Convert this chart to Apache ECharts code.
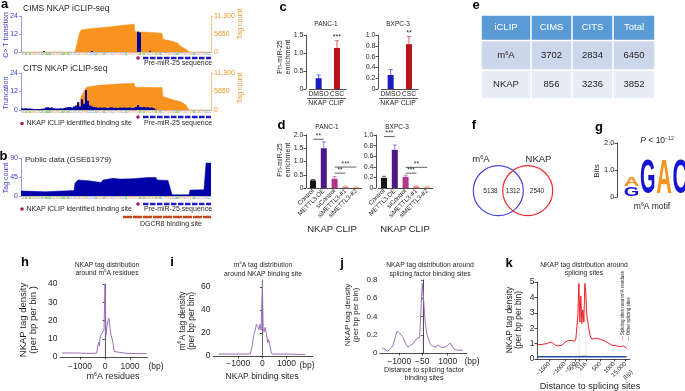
<!DOCTYPE html>
<html>
<head>
<meta charset="utf-8">
<title>NKAP iCLIP figure</title>
<script src="https://cdn.jsdelivr.net/npm/echarts@6.0.0/dist/echarts.min.js"></script>
<style>
  html, body { margin: 0; padding: 0; background: #fff; }
  #figure { width: 685px; height: 391px; }
</style>
</head>
<body>
<div id="figure"></div>
<script>
const FONT = '"Liberation Sans", Arial, Helvetica, sans-serif';
const INK = '#231f20';
const TRACK_BLUE = '#3a3ac4';
const TAG_ORANGE = '#f7931e';

// a / b : read coverage along pri-miR-25 (x = nucleotide index)
const seqLetters = 'GCAGAGGCGCAGAAAGCGGCAAGACCGCGCGGGCCCCAGCGACTGCCTGGCCAGTGTTGAGAGGCGGAGACTTGGGCAATTGCTGGACGCTGCCCTGGG';
const bindingSite = 58.5;
const preMir25 = [61, 95];
const dgcr8Site = [51, 95];

const cimsTagPos = [0, 27, 28, 29, 30, 31, 35, 40, 45, 50, 55, 56.5, 57, 65, 70.5, 71, 72, 76, 78, 80, 83, 84, 95];
const cimsTagCount = [0, 0, 2500, 5500, 6900, 7150, 7350, 7650, 7950, 8300, 8650, 8800, 6350, 6150, 5900, 4000, 3700, 3300, 2900, 1700, 650, 0, 0];
const cimsTransPos = [11.5, 35.5, 58.5, 59.5, 64.5];
const cimsTransition = [0.6, 0.7, 13.5, 13.0, 0.5];

const citsTagPos = [0, 28.5, 29, 30, 31, 32, 33, 34, 40, 50, 56.5, 57, 70.5, 71, 76, 80, 82.5, 84, 95];
const citsTagCount = [0, 0, 1500, 3800, 5200, 6300, 7000, 7300, 7600, 8000, 8200, 6950, 6850, 4100, 3100, 2500, 1500, 0, 0];
const citsTruncation = [1.2, 1.0, 1.1, 0.9, 1.0, 0.8, 0.6, 0.5, 0.6, 0.7, 0.8, 1.0, 1.6, 1.8, 1.5, 1.7, 1.2,
  0.9, 1.0, 1.1, 0.9, 1.3, 1.6, 1.8, 2.0, 1.7, 2.2, 3.0, 5.0, 2.2, 7.0, 4.0, 13.0, 6.0, 3.0, 2.5, 2.0,
  1.8, 1.5, 1.6, 1.4, 1.7, 1.5, 1.3, 1.6, 1.8, 1.5, 1.4, 1.3, 1.6, 1.5, 1.7, 1.4, 1.5, 1.6, 1.3, 1.5,
  2.0, 3.2, 2.0, 1.8, 2.0, 1.6, 1.8, 1.5, 1.7, 1.2, 0.4];

const gsePos = [0, 6, 12, 12.5, 26.5, 27, 28.5, 34, 34.5, 40, 41, 46, 49.5, 56, 63.5, 67.5, 68, 73.5, 75.5, 84, 84.5, 91.5, 92.5, 95];
const gseCount = [12, 11, 10, 13, 13, 30, 38, 36, 34, 32, 38, 42, 40, 41, 44, 44, 38, 37, 3, 3, 14, 15, 78, 78];

// c : CLIP-qPCR
const cCategories = ['DMSO', 'CSC'];
const cPanc1 = [0.30, 1.14];
const cPanc1Err = [0.09, 0.20];
const cBxpc3 = [0.26, 0.83];
const cBxpc3Err = [0.10, 0.14];
const cPanc1Stars = ['', '***'];
const cBxpc3Stars = ['', '**'];

// d : METTL3 overexpression / knockdown
const dCategories = ['Control', 'METTL3 OE', 'siControl', 'siMETTL3-#1', 'siMETTL3-#2'];
const dPanc1 = [0.29, 1.50, 0.35, 0.05, 0.04];
const dPanc1Err = [0.03, 0.24, 0.08, 0.02, 0.02];
const dBxpc3 = [0.19, 0.72, 0.21, 0.03, 0.03];
const dBxpc3Err = [0.03, 0.09, 0.03, 0.01, 0.01];
const dPanc1SigFrom = [0, 2, 2], dPanc1SigTo = [1, 3, 4], dPanc1SigY = [1.84, 0.56, 0.79], dPanc1SigText = ['**', '**', '***'];
const dBxpc3SigFrom = [0, 2, 2], dBxpc3SigTo = [1, 3, 4], dBxpc3SigY = [0.97, 0.28, 0.39], dBxpc3SigText = ['***', '***', '**'];

// e : table
const tableHeader = ['iCLIP', 'CIMS', 'CITS', 'Total'];
const tableRowNames = ['m{s|6}A', 'NKAP'];
const tableCIMS = [3702, 856];
const tableCITS = [2834, 3236];
const tableTotal = [6450, 3852];

// f : overlap
const vennSets = ['m{s|6}A', 'NKAP'];
const vennCounts = [5138, 1312, 2540];

// g : motif logo
const motifColumns = [1, 1, 2, 3, 4];
const motifLetters = ['G', 'A', 'G', 'A', 'C'];
const motifBits = [0.36, 0.34, 1.3, 1.3, 1.3];

// h - k : metagene profiles
const hPos = [-1730, -1130, -730, -470, -330, -290, -250, -225, -200, -160, -120, -80, -40, 0, 40, 80, 120, 160, 200, 240, 280, 320, 360, 400, 870, 1400, 1670];
const hDensity = [2.2, 2.2, 2.0, 2.0, 2.2, 6, 8, 6, 10.4, 12, 13, 11, 15, 40, 12, 17, 20, 21.3, 16, 12, 13, 8, 3, 2.2, 2.0, 1.8, 1.8];
const iPos = [-1810, -1050, -500, -430, -360, -290, -250, -195, -135, -95, -55, 0, 30, 70, 110, 165, 220, 260, 305, 360, 400, 1025, 1780];
const iDensity = [1.7, 1.7, 1.7, 8, 18, 23, 27.7, 26, 23, 27.7, 22.5, 64, 24, 21, 24.8, 19.6, 11.5, 14.4, 9.5, 3.8, 1.7, 1.7, 1.2];
const jPos = [-1700, -1610, -1470, -1400, -1265, -1150, -1085, -990, -850, -780, -710, -645, -545, -440, -370, -275, -160, -120, -50, 5, 75, 155, 225, 295, 415, 530, 595, 665, 735, 800, 915, 1010, 1105, 1190, 1285, 1420, 1630];
const jDensity = [0.055, 0.04, 0.02, 0.03, 0.08, 0.19, 0.24, 0.22, 0.17, 0.15, 0.09, 0.066, 0.084, 0.10, 0.095, 0.16, 0.17, 0.40, 0.76, 0.58, 0.32, 0.19, 0.17, 0.09, 0.07, 0.066, 0.09, 0.11, 0.06, 0.048, 0.066, 0.084, 0.11, 0.07, 0.037, 0.03, 0.03];
const kBin = [0.7, 5.4, 10.7, 14.3, 16.8, 19.6, 23.2, 26.8, 30.4, 33.9, 37.5, 40.4, 41.8, 42.9, 43.9, 45, 46.1, 47.1, 48.2, 49.3, 50.4, 51.4, 52.5, 53.6, 55.4, 57.1, 58.9, 64.3, 69.6, 75, 80.4, 85.7, 89.3, 92.9, 96.4];
const kNearM6A = [0.93, 0.95, 1.0, 1.1, 1.05, 0.9, 0.85, 0.9, 1.1, 1.2, 1.2, 1.15, 1.3, 2.1, 2.8, 4.9, 2.4, 4.1, 2.3, 3.2, 2.4, 4.9, 4.3, 2.8, 2.1, 1.5, 1.3, 1.35, 1.25, 1.1, 0.9, 0.85, 0.8, 0.85, 0.7];
const kOtherBin = [0.7, 10, 20, 30, 40, 50, 60, 70, 80, 90, 96.4];
const kOther = [0.15, 0.15, 0.14, 0.15, 0.15, 0.16, 0.15, 0.15, 0.14, 0.15, 0.15];
const kTickBins = [13, 30, 41, 45.5, 52.5, 68, 83, 95];
const kTickLabels = ['\u22121500', '\u22121000', '\u2212500', '\u221230', '116', '500', '1000', '15,000'];
const kSiteBins = [45.5, 52.5];

const baseColors = { A: '#53b44a', C: '#5b7fd6', G: '#f4a640', T: '#e0504a' };
const motifColors = { A: '#f7931e', C: '#1414d2', G: '#1414d2' };

const pairs = (xs, ys) => xs.map((x, i) => [x, ys[i]]);
const dec1 = v => (v === 0 ? '0' : v.toFixed(1));
const minusFmt = v => String(v).replace('-', '\u2212');

// ---------- grids ----------
const grids = [
  { left: 21, top: 16, width: 190, height: 36 },     // 0 a CIMS
  { left: 21, top: 73, width: 190, height: 37 },     // 1 a CITS
  { left: 21, top: 158, width: 190, height: 38 },    // 2 b
  { left: 309.5, top: 35, width: 36.6, height: 54 }, // 3 c PANC-1
  { left: 381.5, top: 35, width: 36.6, height: 54 }, // 4 c BXPC-3
  { left: 307.6, top: 135, width: 54, height: 53 },  // 5 d PANC-1
  { left: 378.6, top: 135, width: 54, height: 53 },  // 6 d BXPC-3
  { left: 617, top: 143, width: 73, height: 54 },    // 7 g
  { left: 60, top: 284, width: 87.5, height: 73 },   // 8 h
  { left: 213, top: 280, width: 100, height: 76 },   // 9 i
  { left: 380, top: 280, width: 87, height: 73 },    // 10 j
  { left: 537, top: 282, width: 93, height: 77 }     // 11 k
].map(g => Object.assign({ containLabel: false, outerBoundsMode: 'none' }, g));

// ---------- axes ----------
function trackX(gi) {
  return { type: 'value', gridIndex: gi, min: 0, max: 95,
    axisLine: { show: true, lineStyle: { color: '#c8c8c8', width: 0.8 } },
    axisTick: { show: false }, axisLabel: { show: false }, splitLine: { show: false } };
}
function trackY(gi, max, interval, color, lineColor, position) {
  return { type: 'value', gridIndex: gi, position: position, min: 0, max: max, interval: interval,
    axisLine: { show: true, lineStyle: { color: lineColor, width: 0.8 } },
    axisTick: { show: true, length: 2, lineStyle: { color: lineColor, width: 0.8 } },
    axisLabel: { color: color, fontSize: 7, fontFamily: FONT, margin: 3,
      formatter: v => (v >= 10000 ? v.toLocaleString('en-US') : String(v)) },
    splitLine: { show: false } };
}
function barX(gi, cats, rotate) {
  return { type: 'category', gridIndex: gi, data: cats,
    axisLine: { show: true, lineStyle: { color: INK, width: 0.8 } },
    axisTick: { show: false },
    axisLabel: { interval: 0, rotate: rotate || 0, fontSize: rotate ? 6.3 : 6.8, color: INK,
      fontFamily: FONT, margin: 2, hideOverlap: false } };
}
function plainY(gi, min, max, o) {
  const y = { type: 'value', gridIndex: gi, min: min, max: max, offset: o.offset || 0,
    axisLine: { show: true, lineStyle: { color: INK, width: 0.8 } },
    axisTick: { show: true, length: 2.5, lineStyle: { color: INK, width: 0.8 } },
    axisLabel: { fontSize: o.size || 7, color: INK, fontFamily: FONT, margin: 2.5 },
    splitLine: { show: false } };
  if (o.interval) y.interval = o.interval;
  if (o.fmt) y.axisLabel.formatter = o.fmt;
  if (o.ticks) { y.axisLabel.customValues = o.ticks; y.axisTick.customValues = o.ticks; }
  return y;
}
function distX(gi, min, max, ticks, o) {
  return { type: 'value', gridIndex: gi, min: min, max: max, offset: o.offset || 0,
    axisLine: { show: true, lineStyle: { color: INK, width: 0.8 } },
    axisTick: { show: true, length: 2.5, customValues: ticks, lineStyle: { color: INK, width: 0.8 } },
    axisLabel: { customValues: ticks, fontSize: o.size, color: INK, fontFamily: FONT, margin: o.margin || 2,
      rotate: o.rotate || 0, formatter: o.fmt || minusFmt },
    splitLine: { show: false } };
}

const xAxes = [
  trackX(0), trackX(1), trackX(2),
  barX(3, cCategories), barX(4, cCategories),
  barX(5, dCategories, 45), barX(6, dCategories, 45),
  { type: 'value', gridIndex: 7, min: 0.1, max: 4.6, show: false },
  distX(8, -1800, 1700, [-1000, 0, 1000], { size: 8.5, offset: 4, margin: 1.5 }),
  distX(9, -2050, 2100, [-1000, 0, 1000], { size: 8.5, offset: 1.5, margin: 2 }),
  distX(10, -1800, 1800, [-1000, -50, 1000], { size: 8.5, offset: 3, margin: 1.5 }),
  distX(11, 0, 100, kTickBins, { size: 6, offset: 2, margin: 2, rotate: 45,
    fmt: v => kTickLabels[kTickBins.indexOf(v)] })
];
const yAxes = [
  trackY(0, 24, 12, TRACK_BLUE, '#8080d8', 'left'),
  trackY(0, 11300, 5650, TAG_ORANGE, '#f9b57a', 'right'),
  trackY(1, 24, 12, TRACK_BLUE, '#8080d8', 'left'),
  trackY(1, 11300, 5650, TAG_ORANGE, '#f9b57a', 'right'),
  trackY(2, 90, 45, TRACK_BLUE, '#8080d8', 'left'),
  plainY(3, 0, 1.5, { interval: 0.5, fmt: dec1, offset: 3.5 }),
  plainY(4, 0, 1.0, { interval: 0.2, fmt: dec1, offset: 3.5 }),
  plainY(5, 0, 2.0, { interval: 0.5, fmt: dec1, offset: 1.6 }),
  plainY(6, 0, 1.0, { interval: 0.2, fmt: dec1, offset: 2.6 }),
  plainY(7, 0, 2, { interval: 1, fmt: dec1, size: 7.5 }),
  plainY(8, 0, 40, { interval: 10, size: 8.5 }),
  plainY(9, 0, 66, { ticks: [0, 20, 40, 60], size: 8.5 }),
  plainY(10, 0, 0.8, { interval: 0.2, fmt: dec1, size: 8 }),
  plainY(11, 0, 5, { interval: 1, size: 8.5 })
];

// ---------- series helpers ----------
function areaSeries(xi, yi, xs, ys, color) {
  return { type: 'line', xAxisIndex: xi, yAxisIndex: yi, data: pairs(xs, ys), symbol: 'none', silent: true,
    lineStyle: { color: color, width: 0.5 }, areaStyle: { color: color, opacity: 1 }, z: 1 };
}
function countBars(xi, yi, xs, ys) {
  return { type: 'bar', xAxisIndex: xi, yAxisIndex: yi, data: pairs(xs, ys), barWidth: 2,
    itemStyle: { color: '#00009e' }, silent: true, z: 2 };
}
function seqSeries(xi, yi) {
  const letters = seqLetters.slice(0, 95).split('');
  return { type: 'custom', xAxisIndex: xi, yAxisIndex: yi, silent: true, clip: false,
    data: letters.map((c, i) => [i + 0.5, 0]),
    renderItem: function (params, api) {
      const p = api.coord([api.value(0), 0]);
      const ch = letters[params.dataIndex];
      return { type: 'text', x: p[0], y: p[1] + 2.6,
        style: { text: ch, fontSize: 3.2, fontFamily: FONT, fill: baseColors[ch], align: 'center', verticalAlign: 'middle' } };
    } };
}
function trackMarks(xi, yi, gap) {
  return { type: 'custom', xAxisIndex: xi, yAxisIndex: yi, silent: true, clip: false,
    data: [[bindingSite, preMir25[0], preMir25[1]]],
    renderItem: function (params, api) {
      const dot = api.coord([api.value(0), 0]);
      const a = api.coord([api.value(1), 0]);
      const b = api.coord([api.value(2), 0]);
      return { type: 'group', children: [
        { type: 'circle', shape: { cx: dot[0], cy: dot[1] + gap, r: 1.8 }, style: { fill: '#a3195b' } },
        { type: 'line', shape: { x1: a[0], y1: a[1] + gap, x2: b[0], y2: b[1] + gap },
          style: { stroke: '#1c1cc8', lineWidth: 2.4, lineDash: [5.5, 1.5] } }
      ] };
    } };
}
function siteBar(xi, yi, range, gap) {
  return { type: 'custom', xAxisIndex: xi, yAxisIndex: yi, silent: true, clip: false,
    data: [[range[0], range[1]]],
    renderItem: function (params, api) {
      const a = api.coord([api.value(0), 0]);
      const b = api.coord([api.value(1), 0]);
      return { type: 'line', shape: { x1: a[0], y1: a[1] + gap, x2: b[0], y2: b[1] + gap },
        style: { stroke: '#c5461f', lineWidth: 2.4, lineDash: [9, 1] } };
    } };
}
function barSeries(xi, yi, values, colors) {
  return { type: 'bar', xAxisIndex: xi, yAxisIndex: yi, barWidth: 6, silent: true,
    data: values.map((v, i) => ({ value: v, itemStyle: { color: colors[i] } })) };
}
function errorSeries(xi, yi, values, errs, colors, stars) {
  return { type: 'custom', xAxisIndex: xi, yAxisIndex: yi, silent: true, z: 3,
    data: values.map((v, i) => [i, v, errs[i]]),
    renderItem: function (params, api) {
      const i = api.value(0), v = api.value(1), e = api.value(2);
      const p0 = api.coord([i, v]);
      const p1 = api.coord([i, v + e]);
      const col = colors[params.dataIndex];
      const kids = [
        { type: 'line', shape: { x1: p0[0], y1: p0[1], x2: p1[0], y2: p1[1] }, style: { stroke: col, lineWidth: 0.9 } },
        { type: 'line', shape: { x1: p1[0] - 2, y1: p1[1], x2: p1[0] + 2, y2: p1[1] }, style: { stroke: col, lineWidth: 0.9 } }
      ];
      const s = stars && stars[params.dataIndex];
      if (s) kids.push({ type: 'text', x: p1[0], y: p1[1] - 0.5,
        style: { text: s, fontSize: 7, fontFamily: FONT, fill: INK, align: 'center', verticalAlign: 'bottom' } });
      return { type: 'group', children: kids };
    } };
}
function sigSeries(xi, yi, from, to, ys, labels) {
  return { type: 'custom', xAxisIndex: xi, yAxisIndex: yi, silent: true, clip: false, z: 4,
    data: from.map((f, i) => [f, to[i], ys[i]]),
    renderItem: function (params, api) {
      const a = api.coord([api.value(0), api.value(2)]);
      const b = api.coord([api.value(1), api.value(2)]);
      return { type: 'group', children: [
        { type: 'line', shape: { x1: a[0], y1: a[1], x2: b[0], y2: b[1] }, style: { stroke: INK, lineWidth: 0.7 } },
        { type: 'text', x: (a[0] + b[0]) / 2, y: a[1] + 0.5,
          style: { text: labels[params.dataIndex], fontSize: 6.5, fontFamily: FONT, fill: INK, align: 'center', verticalAlign: 'bottom' } }
      ] };
    } };
}
function profile(xi, yi, xs, ys, color, width) {
  return { type: 'line', xAxisIndex: xi, yAxisIndex: yi, data: pairs(xs, ys), symbol: 'none', silent: true,
    lineStyle: { color: color, width: width || 1 }, z: 3 };
}
// light dotted guide lines at the reference sites
function guides(xi, yi, sites) {
  return { type: 'custom', xAxisIndex: xi, yAxisIndex: yi, silent: true, z: 2,
    data: sites.map(s => [s]),
    renderItem: function (params, api) {
      const x = api.coord([api.value(0), 0])[0];
      const cs = params.coordSys;
      return { type: 'line', shape: { x1: x, y1: cs.y, x2: x, y2: cs.y + cs.height },
        style: { stroke: '#b8b8b8', lineWidth: 0.6, lineDash: [1.2, 1.2] } };
    } };
}

// motif logo: stack letters inside each column
const motifData = [];
const stackTop = {};
motifColumns.forEach((c, i) => {
  const base = stackTop[c] || 0;
  motifData.push([c, base, motifBits[i]]);
  stackTop[c] = base + motifBits[i];
});
const glyphWidth = { G: 0.778, A: 0.722, C: 0.722 };
const logoSeries = { type: 'custom', xAxisIndex: 7, yAxisIndex: 9, silent: true, clip: false,
  data: motifData,
  renderItem: function (params, api) {
    const col = api.value(0), base = api.value(1), h = api.value(2);
    const bl = api.coord([col - 0.48, base]);
    const tr = api.coord([col + 0.48, base + h]);
    const L = motifLetters[params.dataIndex];
    const fs = 20;
    return { type: 'text', x: (bl[0] + tr[0]) / 2, y: (bl[1] + tr[1]) / 2,
      scaleX: (tr[0] - bl[0]) / (glyphWidth[L] * fs), scaleY: (bl[1] - tr[1]) / (0.72 * fs),
      style: { text: L, fontSize: fs, fontWeight: 'bold', fontFamily: FONT, fill: motifColors[L],
        align: 'center', verticalAlign: 'middle' } };
  } };

const cColors = ['#1c1cc4', '#b3121b'];
const cErrColors = ['#5a5ae6', '#d65050'];
const dColors = ['#141414', '#4b1a86', '#b2358e', '#e07a6a', '#e9b98c'];
const dErrColors = ['#555555', '#8a6ac0', '#d070b0', '#e89a8a', '#eecba6'];

const series = [
  areaSeries(0, 1, cimsTagPos, cimsTagCount, TAG_ORANGE),
  countBars(0, 0, cimsTransPos, cimsTransition),
  areaSeries(1, 3, citsTagPos, citsTagCount, TAG_ORANGE),
  countBars(1, 2, citsTruncation.map((v, i) => i + 0.5), citsTruncation),
  areaSeries(2, 4, gsePos, gseCount, '#0000a8'),
  seqSeries(0, 0), seqSeries(1, 2), seqSeries(2, 4),
  trackMarks(0, 0, 6), trackMarks(1, 2, 7), trackMarks(2, 4, 8),
  siteBar(2, 4, dgcr8Site, 21),
  barSeries(3, 5, cPanc1, cColors), errorSeries(3, 5, cPanc1, cPanc1Err, cErrColors, cPanc1Stars),
  barSeries(4, 6, cBxpc3, cColors), errorSeries(4, 6, cBxpc3, cBxpc3Err, cErrColors, cBxpc3Stars),
  barSeries(5, 7, dPanc1, dColors), errorSeries(5, 7, dPanc1, dPanc1Err, dErrColors),
  sigSeries(5, 7, dPanc1SigFrom, dPanc1SigTo, dPanc1SigY, dPanc1SigText),
  barSeries(6, 8, dBxpc3, dColors), errorSeries(6, 8, dBxpc3, dBxpc3Err, dErrColors),
  sigSeries(6, 8, dBxpc3SigFrom, dBxpc3SigTo, dBxpc3SigY, dBxpc3SigText),
  logoSeries,
  guides(8, 10, [0]), guides(9, 11, [0]), guides(10, 12, [-50]), guides(11, 13, kSiteBins),
  profile(8, 10, hPos, hDensity, '#9d6fbf'),
  profile(9, 11, iPos, iDensity, '#9d6fbf'),
  profile(10, 12, jPos, jDensity, '#9d6fbf'),
  profile(11, 13, kOtherBin, kOther, '#27509b', 1.5),
  profile(11, 13, kBin, kNearM6A, '#ec2227')
];

// ---------- text, table, venn ----------
function rich(size, color) {
  return {
    s: { fontSize: size * 0.6, fill: color, fontFamily: FONT, verticalAlign: 'top' },
    i: { fontSize: size, fill: color, fontFamily: FONT, fontStyle: 'italic' },
    r: { fontSize: size, fill: '#ec2227', fontFamily: FONT },
    b: { fontSize: size, fill: '#27509b', fontFamily: FONT }
  };
}
function txt(x, y, text, size, o) {
  o = o || {};
  const color = o.color || INK;
  const style = { text: text, fontSize: size, fontFamily: FONT, fill: color,
    fontWeight: o.bold ? 'bold' : 'normal', align: o.align || 'center', verticalAlign: 'middle',
    rich: rich(size, color) };
  if (o.lh) style.lineHeight = o.lh;
  return { type: 'text', x: x, y: y, rotation: o.rot || 0, silent: true, style: style };
}
const ROT = Math.PI / 2;

const graphics = [];
// panel letters
[['a', 4.5, 4.5], ['b', 3.5, 156], ['c', 283, 7], ['d', 281.5, 125.5], ['e', 476, 5], ['f', 474, 125],
 ['g', 599, 127], ['h', 25, 262.5], ['i', 172, 262.5], ['j', 342, 263], ['k', 509, 263]]
  .forEach(p => graphics.push(txt(p[1], p[2], p[0], 13, { bold: true, color: '#000' })));

// a / b
graphics.push(
  txt(23, 8.5, 'CIMS NKAP iCLIP-seq', 8.5, { align: 'left' }),
  txt(23, 69, 'CITS NKAP iCLIP-seq', 8.5, { align: 'left' }),
  txt(144, 63.5, 'Pre-miR-25 sequence', 7, { align: 'left' }),
  txt(6, 35, 'C> T transition', 7, { rot: ROT, color: TRACK_BLUE }),
  txt(6, 93, 'Truncation', 7, { rot: ROT, color: TRACK_BLUE }),
  txt(240, 24, 'Tag count', 7, { rot: ROT, color: TAG_ORANGE }),
  txt(240, 88, 'Tag count', 7, { rot: ROT, color: TAG_ORANGE }),
  { type: 'circle', shape: { cx: 22, cy: 123.5, r: 1.8 }, style: { fill: '#a3195b' } },
  txt(26.5, 123.5, 'NKAP iCLIP identified binding site', 7, { align: 'left' }),
  txt(144, 123.5, 'Pre-miR-25 sequence', 7, { align: 'left' }),
  txt(25, 160, 'Public data (GSE61979)', 8, { align: 'left' }),
  txt(6, 178, 'Tag count', 7, { rot: ROT, color: TRACK_BLUE }),
  { type: 'circle', shape: { cx: 22, cy: 209, r: 1.8 }, style: { fill: '#a3195b' } },
  txt(26.5, 209, 'NKAP iCLIP identified binding site', 7, { align: 'left' }),
  txt(144, 209, 'Pre-miR-25 sequence', 7, { align: 'left' }),
  txt(140, 224, 'DGCR8 binding site', 7, { align: 'left' })
);

// c / d
graphics.push(
  txt(326, 24, 'PANC-1', 6.5), txt(398, 24, 'BXPC-3', 6.5),
  txt(284, 57, 'Pri-miR-25\nenrichment', 7, { rot: ROT, lh: 8 }),
  { type: 'line', shape: { x1: 307, y1: 98.5, x2: 346, y2: 98.5 }, style: { stroke: INK, lineWidth: 0.7 } },
  { type: 'line', shape: { x1: 379, y1: 98.5, x2: 418, y2: 98.5 }, style: { stroke: INK, lineWidth: 0.7 } },
  txt(326, 103.5, 'NKAP CLIP', 6.8), txt(398, 103.5, 'NKAP CLIP', 6.8),
  txt(327, 127, 'PANC-1', 6.5), txt(397, 127, 'BXPC-3', 6.5),
  txt(284, 160, 'Pri-miR-25\nenrichment', 7, { rot: ROT, lh: 8 }),
  txt(332, 229, 'NKAP CLIP', 9.5), txt(405, 229, 'NKAP CLIP', 9.5)
);

// e : table
const tableColX = [481, 531, 572, 613, 655];
const tableRowY = [15, 40.5, 70, 99];
const tableFill = ['#5b9bd5', '#cdd7eb', '#e8ecf5'];
const tableCells = [tableHeader,
  [tableRowNames[0], tableCIMS[0], tableCITS[0], tableTotal[0]],
  [tableRowNames[1], tableCIMS[1], tableCITS[1], tableTotal[1]]];
tableCells.forEach((row, r) => {
  row.forEach((cell, c) => {
    const x0 = tableColX[c], x1 = tableColX[c + 1], y0 = tableRowY[r], y1 = tableRowY[r + 1];
    graphics.push({ type: 'rect', silent: true, shape: { x: x0 + 0.75, y: y0 + 0.75, width: x1 - x0 - 1.5, height: y1 - y0 - 1.5 },
      style: { fill: tableFill[r] } });
    graphics.push(txt((x0 + x1) / 2, (y0 + y1) / 2, String(cell), 9.5, { color: r === 0 ? '#ffffff' : INK }));
  });
});

// f : venn
graphics.push(
  { type: 'circle', silent: true, shape: { cx: 498.3, cy: 190.7, r: 25 }, style: { fill: 'none', stroke: '#4545e0', lineWidth: 1.2 } },
  { type: 'circle', silent: true, shape: { cx: 527.7, cy: 190.7, r: 25 }, style: { fill: 'none', stroke: '#ec2a2f', lineWidth: 1.2 } },
  txt(481, 159, vennSets[0], 9.5), txt(538.5, 159, vennSets[1], 9.5),
  txt(490.5, 191, String(vennCounts[0]), 6.5), txt(513, 191, String(vennCounts[1]), 6.5), txt(537, 191, String(vennCounts[2]), 6.5)
);

// g
graphics.push(
  txt(597, 171, 'Bits', 8, { rot: ROT }),
  txt(657, 141, '{i|P} < 10{s|\u221212}', 8.5),
  txt(652, 207, 'm{s|6}A motif', 8.5)
);

// h - k
graphics.push(
  txt(107, 269, 'NKAP tag distribution\naround m{s|6}A residues', 6.8, { lh: 8.5 }),
  txt(28, 320, 'NKAP tag density\n(per bp per bin )', 9.5, { rot: ROT, lh: 10 }),
  txt(113, 377, 'm{s|6}A residues', 9),
  txt(156, 367, '(bp)', 8.5),
  txt(263, 269.5, 'm{s|6}A tag distribution\naround NKAP binding site', 6.8, { lh: 8.5 }),
  txt(187, 321, 'm{s|6}A tag density\n(per bp per bin)', 8.5, { rot: ROT, lh: 9.5 }),
  txt(262, 377, 'NKAP binding sites', 8.5),
  txt(307, 366, '(bp)', 8.5),
  txt(430, 269.5, 'NKAP tag distribution around\nsplicing factor binding sites', 6.8, { lh: 8.5 }),
  txt(352, 315, 'NKAP tag density\n(per bp per bin)', 8, { rot: ROT, lh: 8.5 }),
  txt(424, 374, 'Distance to splicing factor\nbinding sites', 7, { lh: 8.5 }),
  txt(472, 362, '(bp)', 8.5),
  txt(584, 269, 'NKAP tag distribution around\nsplicing sites', 6.8, { lh: 8.5 }),
  txt(514, 320, 'NKAP tag density\n(per bp per bin)', 8.5, { rot: ROT, lh: 9.5 }),
  txt(590, 386, 'Distance to splicing sites', 9.2),
  txt(628, 375, '(bp)', 6, { rot: Math.PI / 4 }),
  txt(623, 341, '{r|\u2014} Splicing sites near m{s|6}A residues', 4.5, { rot: ROT, align: 'left' }),
  txt(629, 341, '{b|\u2014} Other splicing sites', 4.5, { rot: ROT, align: 'left' })
);

const chart = echarts.init(document.getElementById('figure'), null, { renderer: 'canvas' });
chart.setOption({
  animation: false,
  backgroundColor: '#ffffff',
  textStyle: { fontFamily: FONT },
  grid: grids,
  xAxis: xAxes,
  yAxis: yAxes,
  series: series,
  graphic: graphics
});
window.addEventListener('resize', () => chart.resize());
</script>
</body>
</html>
